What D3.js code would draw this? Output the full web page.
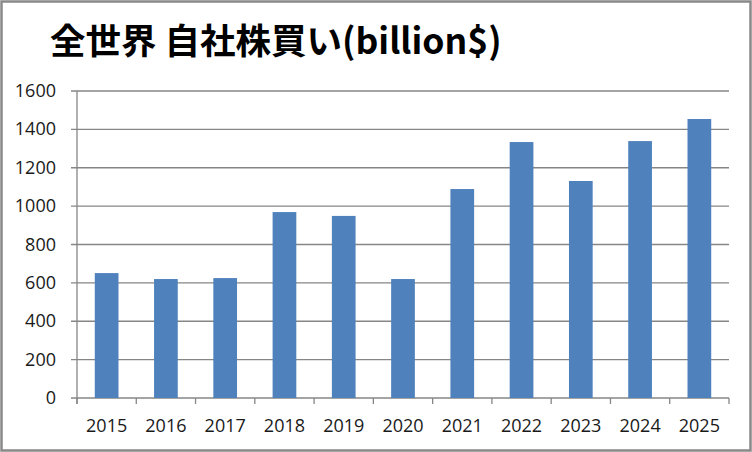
<!DOCTYPE html>
<html><head><meta charset="utf-8">
<script src="https://cdn.jsdelivr.net/npm/d3@7"></script>
<style>body{margin:0;background:#fff}svg{display:block}</style>
</head><body>
<svg id="c" width="752" height="452"></svg>
<script>
const title = "全世界 自社株買い(billion$)";
const categories = ["2015","2016","2017","2018","2019","2020","2021","2022","2023","2024","2025"];
const values = [651, 620, 625, 969, 949, 620, 1089, 1334, 1131, 1339, 1454];
const yTicks = [0,200,400,600,800,1000,1200,1400,1600];

const svg = d3.select("#c");
const W = 752, H = 452;
const m = {left:77, right:23, top:91, bottom:54};
svg.append("rect").attr("x",1.5).attr("y",1.5).attr("width",W-3).attr("height",H-3)
  .attr("fill","#fff").attr("stroke","#898989").attr("stroke-width",2.5);

const x = d3.scaleBand().domain(categories).range([m.left, W-m.right]).paddingInner(0.6).paddingOuter(0.3);
const xb = d3.scaleBand().domain(categories).range([m.left, W-m.right]);
const y = d3.scaleLinear().domain([0,1600]).range([H-m.bottom, m.top]);

const font = "'Open Sans','Noto Sans',sans-serif";
// gridlines
svg.append("g").selectAll("line").data(yTicks).join("line")
  .attr("x1", m.left-6).attr("x2", W-m.right)
  .attr("y1", d=>y(d)).attr("y2", d=>y(d))
  .attr("stroke","#868686").attr("stroke-width",1.3);
// y axis line
svg.append("line").attr("x1",m.left).attr("x2",m.left).attr("y1",y(1600)).attr("y2",y(0)+6)
  .attr("stroke","#868686").attr("stroke-width",1.3);
// bars
svg.append("g").selectAll("rect").data(values).join("rect")
  .attr("x",(d,i)=>x(categories[i])).attr("width",x.bandwidth())
  .attr("y",d=>y(d)).attr("height",d=>y(0)-y(d)).attr("fill","#4f81bd");
// x ticks
const xt = categories.map(c=>xb(c)).concat([W-m.right]);
svg.append("g").selectAll("line").data(xt).join("line")
  .attr("x1",d=>d).attr("x2",d=>d).attr("y1",y(0)).attr("y2",y(0)+6)
  .attr("stroke","#868686").attr("stroke-width",1.3);
// x labels
svg.append("g").selectAll("text").data(categories).join("text")
  .attr("x",d=>xb(d)+xb.bandwidth()/2).attr("y",y(0)+34)
  .attr("text-anchor","middle").attr("font-family",font).attr("font-size",18).attr("fill","#1a1a1a")
  .text(d=>d);
// y labels
svg.append("g").selectAll("text").data(yTicks).join("text")
  .attr("x",56).attr("y",d=>y(d)+6)
  .attr("text-anchor","end").attr("font-family",font).attr("font-size",18).attr("fill","#1a1a1a")
  .text(d=>d);
// title
svg.append("text").attr("x",50).attr("y",54)
  .attr("font-family","'Noto Sans CJK JP','Open Sans',sans-serif").attr("font-weight","bold")
  .attr("font-size",35.5).attr("fill","#000").text(title);
</script>
</body></html>
